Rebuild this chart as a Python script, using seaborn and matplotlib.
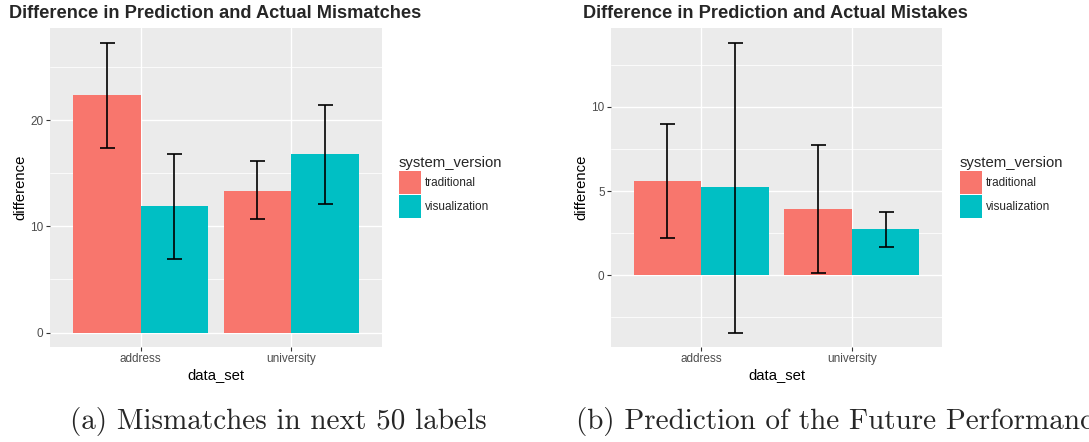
import numpy as np
import pandas as pd
import matplotlib
matplotlib.use("Agg")
import matplotlib.pyplot as plt
from matplotlib.patches import Patch
from matplotlib.ticker import MultipleLocator
import seaborn as sns

# ---- data -------------------------------------------------------------
data_sets = ["address", "university"]
versions = ["traditional", "visualization"]

# Panel (a): difference in predicted vs actual mismatches
mismatch_traditional = [22.4, 13.3]
mismatch_visualization = [11.9, 16.8]
mismatch_trad_lo = [17.4, 10.65]
mismatch_trad_hi = [27.3, 16.1]
mismatch_vis_lo = [6.95, 12.1]
mismatch_vis_hi = [16.8, 21.45]

# Panel (b): difference in predicted vs actual mistakes
mistake_traditional = [5.6, 3.93]
mistake_visualization = [5.24, 2.74]
mistake_trad_lo = [2.22, 0.1]
mistake_trad_hi = [8.99, 7.72]
mistake_vis_lo = [-3.41, 1.67]
mistake_vis_hi = [13.83, 3.77]

titles = ["Difference in Prediction and Actual Mismatches",
          "Difference in Prediction and Actual Mistakes"]
captions = ["(a) Mismatches in next 50 labels",
            "(b) Prediction of the Future Performance"]

palette = {"traditional": "#F8766D", "visualization": "#00BFC4"}

# ---- style ------------------------------------------------------------
sns.set_theme(style="darkgrid")
plt.rcParams["font.family"] = ["Liberation Sans", "DejaVu Sans"]

W, H = 1089, 442
fig = plt.figure(figsize=(W / 100, H / 100), dpi=100)


def frame(trad, vis):
    rows = []
    for i, ds in enumerate(data_sets):
        rows.append((ds, "traditional", trad[i]))
        rows.append((ds, "visualization", vis[i]))
    return pd.DataFrame(rows, columns=["data_set", "system_version", "difference"])


def panel(rect, trad, vis, tlo, thi, vlo, vhi, minor_step, major_step):
    ax = fig.add_axes([rect[0] / W, 1 - (rect[1] + rect[3]) / H, rect[2] / W, rect[3] / H])
    df = frame(trad, vis)
    sns.barplot(data=df, x="data_set", y="difference", hue="system_version",
                hue_order=versions, order=data_sets, palette=palette,
                width=0.9, errorbar=None, saturation=1, legend=False, ax=ax,
                linewidth=0)
    lows = [tlo, vlo]
    highs = [thi, vhi]
    bar_sets = list(ax.containers)
    for k, cont in enumerate(bar_sets):
        for j, bar in enumerate(cont.patches):
            xc = bar.get_x() + bar.get_width() / 2
            h = bar.get_height()
            ax.errorbar([xc], [h],
                        yerr=[[h - lows[k][j]], [highs[k][j] - h]],
                        fmt="none", ecolor="black", elinewidth=1.2, capsize=5.4,
                        capthick=1.2, zorder=5)
    allv = list(tlo) + list(thi) + list(vlo) + list(vhi) + [0]
    lo, hi = min(allv), max(allv)
    pad = 0.05 * (hi - lo)
    ax.set_ylim(lo - pad, hi + pad)
    ax.set_xlim(-0.6, 1.6)
    ax.set_facecolor("#EBEBEB")
    for s in ax.spines.values():
        s.set_visible(False)
    ax.yaxis.set_major_locator(MultipleLocator(major_step))
    ax.yaxis.set_minor_locator(MultipleLocator(minor_step))
    ax.grid(True, which="major", color="white", linewidth=1.0)
    ax.grid(True, which="minor", axis="y", color="white", linewidth=0.55)
    ax.grid(False, which="minor", axis="x")
    ax.set_axisbelow(True)
    ax.tick_params(which="major", length=2.6, width=0.8, color="#333333",
                   labelsize=8.5, labelcolor="#4D4D4D", pad=2, bottom=True, left=True)
    ax.tick_params(which="minor", length=0)
    ax.set_xlabel("data_set", fontsize=10.7, labelpad=2, color="black")
    ax.set_ylabel("difference", fontsize=10.7, labelpad=2, color="black")
    return ax


ax1 = panel((50, 28, 332, 319), mismatch_traditional, mismatch_visualization,
            mismatch_trad_lo, mismatch_trad_hi, mismatch_vis_lo, mismatch_vis_hi, 5, 10)
ax2 = panel((611, 28, 331, 319), mistake_traditional, mistake_visualization,
            mistake_trad_lo, mistake_trad_hi, mistake_vis_lo, mistake_vis_hi, 2.5, 5)

# titles
fig.text(9 / W, 1 - 13 / H, titles[0], fontsize=13.15, fontweight="bold", va="center", ha="left")
fig.text(583 / W, 1 - 13 / H, titles[1], fontsize=13.15, fontweight="bold", va="center", ha="left")

# legends
handles = [Patch(facecolor=palette[v], edgecolor="none") for v in versions]
for x0 in (399, 960):
    leg = fig.legend(handles, versions, title="system_version",
                     loc="upper left", bbox_to_anchor=(x0 / W, 1 - 156 / H),
                     frameon=False, fontsize=8.5, title_fontsize=10.7,
                     handlelength=1.85, handleheight=2.6, handletextpad=0.35,
                     labelspacing=0.1, borderpad=0, borderaxespad=0,
                     alignment="left")

# sub-figure captions
fig.text(70 / W, 1 - 421 / H, captions[0], fontsize=21, family="cmr10", va="center", ha="left")
fig.text(576 / W, 1 - 421 / H, captions[1], fontsize=21, family="cmr10", va="center", ha="left")

fig.savefig("out.png", dpi=100)
